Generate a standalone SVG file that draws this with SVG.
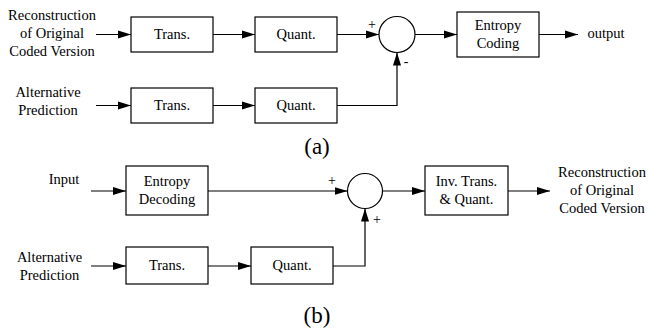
<svg xmlns="http://www.w3.org/2000/svg" width="648" height="330" viewBox="0 0 648 330">
<style>
text{font-family:'Liberation Serif','Times New Roman',serif;font-size:14.5px;fill:#000;text-anchor:middle}
.box{fill:#fff;stroke:#000;stroke-width:1.2}
.ln{fill:none;stroke:#000;stroke-width:1.2}
.cap{font-size:23px}
.sg{font-size:14px}
</style>
<defs>
<marker id="ah" markerUnits="userSpaceOnUse" markerWidth="14" markerHeight="10" refX="13" refY="5" orient="auto">
<path d="M0,1 L13,5 L0,9 Z" fill="#000"/>
</marker>
</defs>
<rect width="648" height="330" fill="#fff"/>
<g id="connectors">
<line class="ln" x1="96" y1="34.5" x2="131" y2="34.5" marker-end="url(#ah)"/>
<line class="ln" x1="213" y1="34.5" x2="255" y2="34.5" marker-end="url(#ah)"/>
<line class="ln" x1="337" y1="34.5" x2="379" y2="34.5" marker-end="url(#ah)"/>
<line class="ln" x1="415" y1="34.5" x2="457" y2="34.5" marker-end="url(#ah)"/>
<line class="ln" x1="539" y1="34.5" x2="578" y2="34.5" marker-end="url(#ah)"/>
<line class="ln" x1="96" y1="105.5" x2="131" y2="105.5" marker-end="url(#ah)"/>
<line class="ln" x1="213" y1="105.5" x2="255" y2="105.5" marker-end="url(#ah)"/>
<path class="ln" d="M337,105.5 H397 V52.5" marker-end="url(#ah)"/>
<line class="ln" x1="91" y1="191" x2="126" y2="191" marker-end="url(#ah)"/>
<line class="ln" x1="208" y1="191" x2="347.5" y2="191" marker-end="url(#ah)"/>
<line class="ln" x1="382.5" y1="191" x2="425" y2="191" marker-end="url(#ah)"/>
<line class="ln" x1="508" y1="191" x2="550" y2="191" marker-end="url(#ah)"/>
<line class="ln" x1="91" y1="266" x2="126" y2="266" marker-end="url(#ah)"/>
<line class="ln" x1="208" y1="266" x2="251" y2="266" marker-end="url(#ah)"/>
<path class="ln" d="M333,266 H365 V208.5" marker-end="url(#ah)"/>
</g>
<g id="src-a">
<text x="52" y="20">Reconstruction</text>
<text x="52" y="38">of Original</text>
<text x="52" y="56">Coded Version</text>
</g>
<g id="trans-a1"><rect class="box" x="131" y="17" width="82" height="35"/><text x="172" y="39">Trans.</text></g>
<g id="quant-a1"><rect class="box" x="255" y="17" width="82" height="35"/><text x="296" y="39">Quant.</text></g>
<g id="sum-a"><circle class="box" cx="397" cy="34.5" r="18"/><text class="sg" x="372" y="29">+</text><text class="sg" x="406" y="66">-</text></g>
<g id="entropy-coding"><rect class="box" x="457" y="12" width="82" height="45"/><text x="498" y="30">Entropy</text><text x="498" y="48">Coding</text></g>
<g id="output"><text x="606" y="38">output</text></g>
<g id="alt-a"><text x="48" y="97">Alternative</text><text x="48" y="115">Prediction</text></g>
<g id="trans-a2"><rect class="box" x="131" y="88" width="82" height="35"/><text x="172" y="110">Trans.</text></g>
<g id="quant-a2"><rect class="box" x="255" y="88" width="82" height="35"/><text x="296" y="110">Quant.</text></g>
<g id="label-a"><text class="cap" x="317" y="154">(a)</text></g>
<g id="input-b"><text x="64" y="184">Input</text></g>
<g id="entropy-decoding"><rect class="box" x="126" y="166" width="82" height="49"/><text x="167" y="186">Entropy</text><text x="167" y="204">Decoding</text></g>
<g id="sum-b"><circle class="box" cx="365" cy="191" r="17.5"/><text class="sg" x="332" y="185">+</text><text class="sg" x="377" y="224">+</text></g>
<g id="inv-trans"><rect class="box" x="425" y="166" width="83" height="49"/><text x="466.5" y="186">Inv. Trans.</text><text x="466.5" y="204">&amp; Quant.</text></g>
<g id="recon-b"><text x="602" y="177">Reconstruction</text><text x="602" y="195">of Original</text><text x="602" y="213">Coded Version</text></g>
<g id="alt-b"><text x="49.5" y="262">Alternative</text><text x="49.5" y="280">Prediction</text></g>
<g id="trans-b"><rect class="box" x="126" y="247" width="82" height="37"/><text x="167" y="270">Trans.</text></g>
<g id="quant-b"><rect class="box" x="251" y="247" width="82" height="37"/><text x="292" y="270">Quant.</text></g>
<g id="label-b"><text class="cap" x="317" y="323">(b)</text></g>
</svg>
